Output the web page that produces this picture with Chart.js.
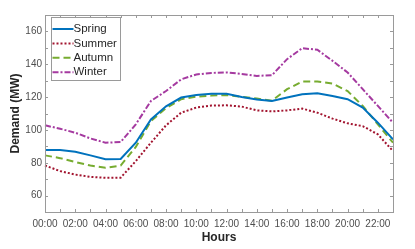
<!DOCTYPE html>
<html>
<head>
<meta charset="utf-8">
<script src="https://cdn.jsdelivr.net/npm/chart.js@4/dist/chart.umd.min.js"></script>
<style>
    html, body { margin: 0; padding: 0; background: #fff; }
    #wrap { width: 415px; height: 249px; }
</style>
</head>
<body>
<div id="wrap"><canvas id="demand-chart" width="415" height="249"></canvas></div>
<script>
// Hourly demand by season

const hours = ['00:00', '01:00', '02:00', '03:00', '04:00', '05:00', '06:00', '07:00',
    '08:00', '09:00', '10:00', '11:00', '12:00', '13:00', '14:00', '15:00',
    '16:00', '17:00', '18:00', '19:00', '20:00', '21:00', '22:00', '23:00'];

const spring = [87.7, 87.7, 86.7, 84.5, 82.2, 82.3, 92.2, 106.4, 114.4, 119.7, 121.3, 122.1,
    122.0, 120.1, 118.5, 117.6, 119.7, 121.7, 122.3, 120.7, 118.7, 113.6, 104.4, 94.2];
const summer = [78.3, 74.9, 72.8, 71.4, 70.8, 70.9, 81.0, 92.2, 102.8, 110.5, 113.6, 114.8,
    115.0, 114.2, 111.9, 111.3, 111.9, 113.0, 110.5, 106.9, 104.0, 102.3, 97.3, 87.1];
const autumn = [84.5, 82.8, 80.4, 78.3, 76.9, 78.3, 89.6, 105.4, 113.3, 118.7, 120.3, 120.9,
    121.3, 120.1, 119.1, 117.8, 124.8, 129.5, 129.5, 128.2, 123.7, 114.6, 103.4, 92.2];
const winter = [102.8, 100.7, 98.3, 94.8, 92.2, 92.6, 103.4, 117.6, 123.7, 130.8, 133.8, 134.7,
    135.0, 134.1, 132.9, 133.3, 143.1, 149.8, 148.8, 142.1, 135.0, 124.8, 114.6, 104.4];

const seasonNames = ['Spring', 'Summer', 'Autumn', 'Winter'];

const colors = {
    spring: '#0072BD',
    summer: '#A2142F',
    autumn: '#77AC30',
    winter: '#A53AA0',
    axis: '#9a9a9a',
    tickText: '#4d4d4d',
    title: '#262626'
};

Chart.defaults.font.family = '"Liberation Sans", Arial, sans-serif';

// box around plot area with inward ticks (all four sides)
const frameBox = {
    id: 'frameBox',
    afterDatasetsDraw(chart) {
        const { ctx, chartArea: a, scales } = chart;
        const len = 3;
        ctx.save();
        ctx.strokeStyle = colors.axis;
        ctx.lineWidth = 1;
        ctx.beginPath();
        scales.x.ticks.forEach((t, i) => {
            const px = Math.round(scales.x.getPixelForTick(i)) + 0.5;
            ctx.moveTo(px, a.bottom); ctx.lineTo(px, a.bottom - len);
            ctx.moveTo(px, a.top); ctx.lineTo(px, a.top + len);
        });
        scales.y.ticks.forEach(t => {
            const py = Math.round(scales.y.getPixelForValue(t.value)) + 0.5;
            ctx.moveTo(a.left, py); ctx.lineTo(a.left + len, py);
            ctx.moveTo(a.right, py); ctx.lineTo(a.right - len, py);
        });
        ctx.stroke();
        ctx.strokeRect(Math.round(a.left) + 0.5, Math.round(a.top) + 0.5,
            Math.round(a.right - a.left), Math.round(a.bottom - a.top));
        ctx.restore();
    }
};

// legend drawn inside the plot, top-left, with a bordered box
const boxLegend = {
    id: 'boxLegend',
    afterDraw(chart) {
        const { ctx, chartArea: a } = chart;
        const x0 = Math.round(a.left) + 6.5;
        const y0 = Math.round(a.top) + 2.5;
        const w = 69, h = 63, rowH = 14.4;
        ctx.save();
        ctx.fillStyle = '#fff';
        ctx.fillRect(x0, y0, w, h);
        ctx.strokeStyle = colors.axis;
        ctx.lineWidth = 1;
        ctx.strokeRect(x0, y0, w, h);
        ctx.font = '11.5px "Liberation Sans", Arial, sans-serif';
        ctx.textBaseline = 'middle';
        chart.data.datasets.forEach((ds, i) => {
            const cy = y0 + 11.5 + i * rowH;
            ctx.strokeStyle = ds.borderColor;
            ctx.lineWidth = ds.borderWidth;
            ctx.setLineDash(ds.borderDash || []);
            ctx.beginPath();
            ctx.moveTo(x0 + 1, cy);
            ctx.lineTo(x0 + 22, cy);
            ctx.stroke();
            ctx.setLineDash([]);
            ctx.fillStyle = colors.title;
            ctx.fillText(ds.label, x0 + 22, cy);
        });
        ctx.restore();
    }
};

function makeSeries(label, data, color, dash) {
    return {
        label: label,
        data: data,
        borderColor: color,
        backgroundColor: color,
        borderWidth: 2,
        borderDash: dash,
        pointRadius: 0,
        tension: 0,
        fill: false
    };
}

new Chart(document.getElementById('demand-chart').getContext('2d'), {
    type: 'line',
    data: {
        labels: hours,
        datasets: [
            makeSeries(seasonNames[0], spring, colors.spring, []),
            makeSeries(seasonNames[1], summer, colors.summer, [2, 2]),
            makeSeries(seasonNames[2], autumn, colors.autumn, [7, 4]),
            makeSeries(seasonNames[3], winter, colors.winter, [6, 2, 2, 2])
        ]
    },
    options: {
        responsive: false,
        animation: false,
        layout: {
            padding: { top: 15, right: 22, left: 0, bottom: 0 }
        },
        plugins: {
            legend: { display: false },
            tooltip: { enabled: false }
        },
        scales: {
            x: {
                type: 'category',
                offset: false,
                grid: { display: false, drawTicks: false },
                border: { display: false },
                afterFit: s => { s.height = 37; },
                ticks: {
                    autoSkip: false,
                    maxRotation: 0,
                    padding: 6,
                    color: colors.tickText,
                    font: { size: 10 },
                    callback: function(value, index) {
                        return index % 2 === 0 ? hours[index] : '';
                    }
                },
                title: {
                    display: true,
                    text: 'Hours',
                    color: colors.title,
                    font: { size: 12, weight: 'bold' },
                    padding: { top: 0, bottom: 4 }
                }
            },
            y: {
                min: 50,
                max: 170,
                grid: { display: false, drawTicks: false },
                border: { display: false },
                afterFit: s => { s.width = 45; },
                ticks: {
                    stepSize: 10,
                    padding: 3,
                    color: colors.tickText,
                    font: { size: 10 },
                    callback: function(value) {
                        return value % 20 === 0 ? value : '';
                    }
                },
                title: {
                    display: true,
                    text: 'Demand (MW)',
                    color: colors.title,
                    font: { size: 12, weight: 'bold' },
                    padding: { top: 8, bottom: 0 }
                }
            }
        }
    },
    plugins: [frameBox, boxLegend]
});
</script>
</body>
</html>
